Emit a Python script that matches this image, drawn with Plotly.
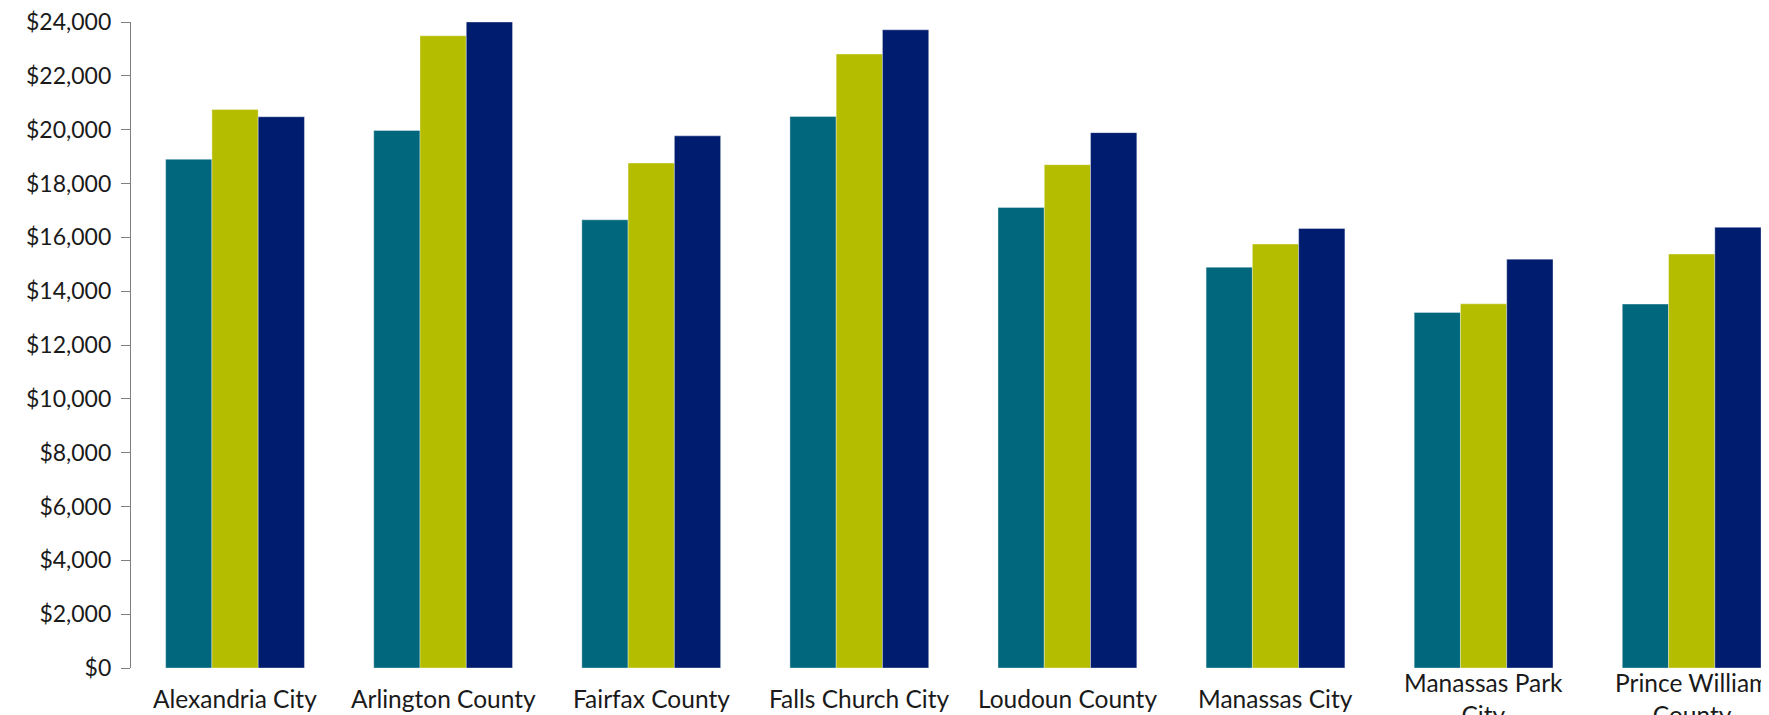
import plotly.graph_objects as go

categories = ["Alexandria City", "Arlington County", "Fairfax County", "Falls Church City",
              "Loudoun County", "Manassas City", "Manassas Park City", "Prince William County"]
category_labels = ["Alexandria City", "Arlington County", "Fairfax County", "Falls Church City",
                   "Loudoun County", "Manassas City", "Manassas Park<br>City", "Prince William<br>County"]

series_names = ["Series 1", "Series 2", "Series 3"]
series_1 = [18900, 19970, 16650, 20490, 17110, 14890, 13210, 13520]
series_2 = [20750, 23490, 18760, 22810, 18700, 15750, 13530, 15380]
series_3 = [20480, 24000, 19770, 23710, 19890, 16330, 15190, 16370]

y_tickvals = [0, 2000, 4000, 6000, 8000, 10000, 12000, 14000, 16000, 18000, 20000, 22000, 24000]
y_ticktext = ["$0", "$2,000", "$4,000", "$6,000", "$8,000", "$10,000", "$12,000",
              "$14,000", "$16,000", "$18,000", "$20,000", "$22,000", "$24,000"]

colors = ["#00677D", "#B5BD00", "#001C6E"]
FONT = "Lato"

fig = go.Figure()
for name, vals, col in zip(series_names, [series_1, series_2, series_3], colors):
    fig.add_trace(go.Bar(
        x=categories, y=vals, name=name,
        marker=dict(color=col, line=dict(color="rgba(255,255,255,0.45)", width=0.8)),
    ))

for cat, lab in zip(categories, category_labels):
    fig.add_annotation(
        x=cat, y=0, xref="x", yref="paper", text=lab, showarrow=False,
        yanchor="middle", xanchor="center", yshift=-30,
        font=dict(family=FONT, size=24.5, color="#1a1a1a"),
    )

fig.update_layout(
    width=1769, height=715,
    margin=dict(l=123, r=0, t=14, b=55),
    paper_bgcolor="white", plot_bgcolor="white",
    barmode="group", bargap=0.333, bargroupgap=0,
    showlegend=False,
    font=dict(family=FONT, size=24, color="#1a1a1a"),
)
fig.update_xaxes(
    range=[-0.5, 7.41], showticklabels=False, showline=False, ticks="",
    showgrid=False, zeroline=False, automargin=False,
)
fig.update_yaxes(
    range=[0, 24000], tickvals=y_tickvals, ticktext=y_ticktext,
    showline=True, linecolor="#7f7f7f", linewidth=1.2,
    ticks="outside", ticklen=9, tickcolor="#7f7f7f", tickwidth=1.2,
    showgrid=False, zeroline=False, automargin=False,
    tickfont=dict(family=FONT, size=23, color="#1a1a1a"),
    ticklabelstandoff=5, ticklabeloverflow="allow",
)

fig.write_html("out.html")
